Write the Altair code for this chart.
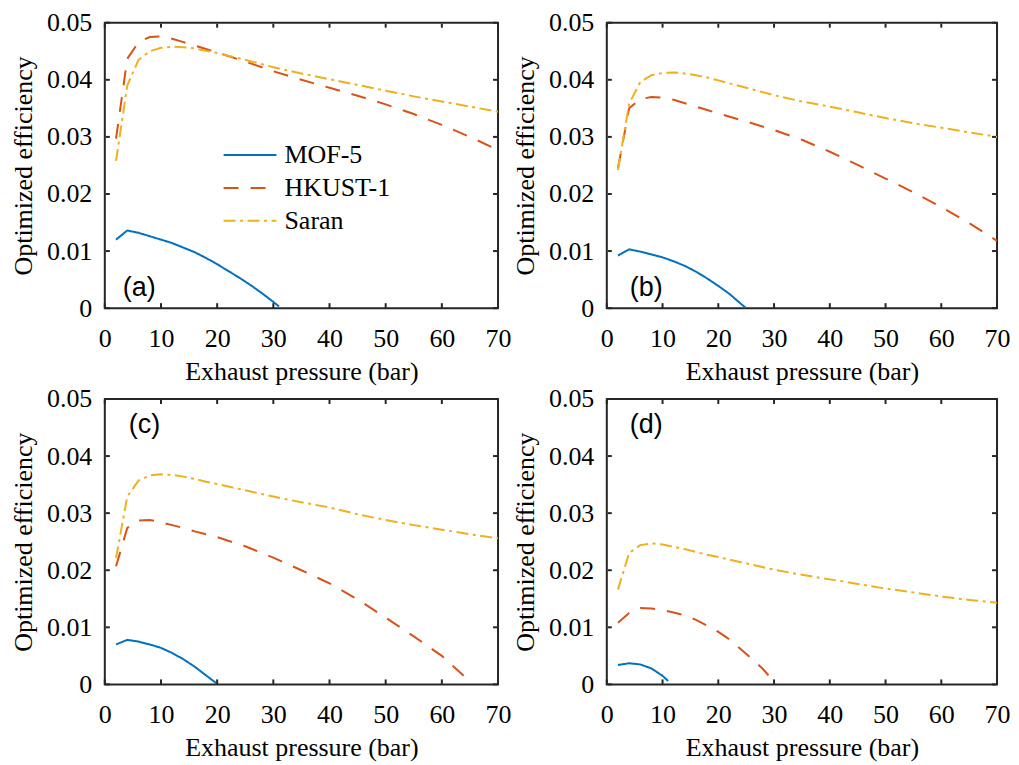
import altair as alt
import pandas as pd

series = ["MOF-5", "HKUST-1", "Saran"]
colors = ["#0072BD", "#D95319", "#EDB120"]
dashes = [[1, 0], [15, 12], [12, 4.5, 3, 4.5]]
x_ticks = [0, 10, 20, 30, 40, 50, 60, 70]
y_ticks = [0, 0.01, 0.02, 0.03, 0.04, 0.05]
panel_labels = ["(a)", "(b)", "(c)", "(d)"]

x_long = [2, 4, 6, 8, 10, 12, 14, 16, 18, 20, 25, 30, 35, 40, 45, 50, 55, 60, 65, 70]

# Panel (a)
a_mof_x = [2, 4, 6, 8, 10, 12, 14, 16, 18, 20, 22, 24, 26, 28, 30, 31]
a_mof_y = [0.0120, 0.0136, 0.0132, 0.0126, 0.0120, 0.0114, 0.0106, 0.0098, 0.0088, 0.0077,
           0.0065, 0.0053, 0.0040, 0.0026, 0.0011, 0.0003]
a_hk_x = x_long
a_hk_y = [0.0297, 0.0437, 0.0466, 0.0475, 0.0476, 0.0472, 0.0466, 0.0460, 0.0454, 0.0448,
          0.0432, 0.0415, 0.0400, 0.0386, 0.0372, 0.0357, 0.0340, 0.0321, 0.0300, 0.0277]
a_sa_x = x_long
a_sa_y = [0.0258, 0.0390, 0.0435, 0.0450, 0.0456, 0.0458, 0.0457, 0.0455, 0.0451, 0.0447,
          0.0435, 0.0422, 0.0411, 0.0401, 0.0391, 0.0381, 0.0371, 0.0362, 0.0353, 0.0344]

# Panel (b)
b_mof_x = [2, 4, 6, 8, 10, 12, 14, 16, 18, 20, 22, 24, 25]
b_mof_y = [0.0092, 0.0103, 0.0099, 0.0094, 0.0089, 0.0082, 0.0074, 0.0064, 0.0052, 0.0039,
           0.0025, 0.0008, 0.0000]
b_hk_x = x_long
b_hk_y = [0.0245, 0.0350, 0.0366, 0.0370, 0.0369, 0.0365, 0.0359, 0.0353, 0.0347, 0.0341,
          0.0327, 0.0312, 0.0295, 0.0274, 0.0251, 0.0227, 0.0203, 0.0177, 0.0149, 0.0118]
b_sa_x = x_long
b_sa_y = [0.0242, 0.0358, 0.0396, 0.0408, 0.0412, 0.0413, 0.0411, 0.0408, 0.0404, 0.0399,
          0.0386, 0.0373, 0.0362, 0.0353, 0.0343, 0.0333, 0.0324, 0.0316, 0.0308, 0.0300]

# Panel (c)
c_mof_x = [2, 4, 6, 8, 10, 12, 14, 16, 18, 20]
c_mof_y = [0.0070, 0.0078, 0.0075, 0.0070, 0.0064, 0.0055, 0.0044, 0.0031, 0.0016, 0.0001]
c_hk_x = [2, 4, 6, 8, 10, 12, 14, 16, 18, 20, 25, 30, 35, 40, 45, 50, 55, 60, 64]
c_hk_y = [0.0207, 0.0274, 0.0287, 0.0288, 0.0284, 0.0279, 0.0274, 0.0268, 0.0263, 0.0258,
          0.0242, 0.0222, 0.0200, 0.0177, 0.0149, 0.0117, 0.0084, 0.0050, 0.0014]
c_sa_x = x_long
c_sa_y = [0.0221, 0.0329, 0.0357, 0.0366, 0.0368, 0.0367, 0.0364, 0.0360, 0.0355, 0.0351,
          0.0340, 0.0329, 0.0319, 0.0310, 0.0298, 0.0288, 0.0279, 0.0271, 0.0263, 0.0256]

# Panel (d)
d_mof_x = [2, 4, 6, 8, 10, 11]
d_mof_y = [0.0034, 0.0037, 0.0035, 0.0028, 0.0015, 0.0006]
d_hk_x = [2, 4, 6, 8, 10, 12, 14, 16, 18, 20, 22, 24, 26, 28, 29]
d_hk_y = [0.0108, 0.0125, 0.0134, 0.0133, 0.0130, 0.0126, 0.0121, 0.0113, 0.0103, 0.0092,
          0.0079, 0.0062, 0.0045, 0.0027, 0.0016]
d_sa_x = x_long
d_sa_y = [0.0166, 0.0230, 0.0244, 0.0247, 0.0245, 0.0241, 0.0237, 0.0232, 0.0227, 0.0223,
          0.0212, 0.0201, 0.0192, 0.0184, 0.0176, 0.0168, 0.0161, 0.0154, 0.0148, 0.0143]

W_LEFT, W_RIGHT, H = 394, 391, 286
TICK = 5
AX = "#262626"
SERIF = "Liberation Serif"
FS = 26


def make_df(mx, my, hx, hy, sx, sy):
    rows = []
    for name, xs, ys in [(series[0], mx, my), (series[1], hx, hy), (series[2], sx, sy)]:
        for x, y in zip(xs, ys):
            rows.append({"p": x, "eff": y, "series": name})
    return pd.DataFrame(rows)


xscale = alt.Scale(domain=[0, 70], nice=False, padding=0, zero=False)
yscale = alt.Scale(domain=[0, 0.05], nice=False, padding=0)
xaxis = alt.Axis(values=x_ticks, title="Exhaust pressure (bar)", labelPadding=17, titlePadding=7,
                 labelFlush=False, labelOverlap=False)
yaxis = alt.Axis(values=y_ticks, title="Optimized efficiency", labelPadding=13, titlePadding=10,
                 labelFlush=False, labelOverlap=False,
                 labelExpr="datum.value == 0 ? '0' : format(datum.value, '.2f')")


def panel(df, label, lx, ly, show_legend, w):
    if show_legend:
        leg = alt.Legend(orient="none", legendX=118, legendY=116, title=None,
                         symbolType="stroke", symbolSize=2800, symbolStrokeWidth=2,
                         labelFont=SERIF, labelFontSize=FS, labelColor="#000",
                         labelOffset=7, rowPadding=0, clipHeight=33, symbolLimit=0)
    else:
        leg = None
    lines = alt.Chart(df).mark_line(strokeWidth=2, clip=True).encode(
        x=alt.X("p:Q", scale=xscale, axis=xaxis),
        y=alt.Y("eff:Q", scale=yscale, axis=yaxis),
        color=alt.Color("series:N", scale=alt.Scale(domain=series, range=colors), legend=leg, sort=series),
        strokeDash=alt.StrokeDash("series:N", scale=alt.Scale(domain=series, range=dashes), legend=leg, sort=series),
        order=alt.Order("p:Q"),
    )
    xt = alt.Chart(pd.DataFrame({"p": x_ticks}))
    yt = alt.Chart(pd.DataFrame({"eff": y_ticks}))
    bottom = xt.mark_rule(color=AX, strokeWidth=2).encode(
        x=alt.X("p:Q", scale=xscale, axis=xaxis), y=alt.value(H), y2=alt.value(H - TICK))
    top = xt.mark_rule(color=AX, strokeWidth=2).encode(
        x=alt.X("p:Q", scale=xscale, axis=xaxis), y=alt.value(1), y2=alt.value(TICK))
    left = yt.mark_rule(color=AX, strokeWidth=2).encode(
        y=alt.Y("eff:Q", scale=yscale, axis=yaxis), x=alt.value(1), x2=alt.value(TICK))
    right = yt.mark_rule(color=AX, strokeWidth=2).encode(
        y=alt.Y("eff:Q", scale=yscale, axis=yaxis), x=alt.value(w - 1), x2=alt.value(w - TICK))
    txt = alt.Chart(pd.DataFrame({"label": [label]})).mark_text(
        font="Liberation Sans", fontSize=27, align="left", baseline="middle", color="#000"
    ).encode(x=alt.value(lx), y=alt.value(ly), text="label:N")
    return alt.layer(lines, bottom, top, left, right, txt).properties(width=w, height=H)


pa = panel(make_df(a_mof_x, a_mof_y, a_hk_x, a_hk_y, a_sa_x, a_sa_y), panel_labels[0], 18, 266, True, W_LEFT)
pb = panel(make_df(b_mof_x, b_mof_y, b_hk_x, b_hk_y, b_sa_x, b_sa_y), panel_labels[1], 23, 266, False, W_RIGHT)
pc = panel(make_df(c_mof_x, c_mof_y, c_hk_x, c_hk_y, c_sa_x, c_sa_y), panel_labels[2], 24, 26, False, W_LEFT)
pd_ = panel(make_df(d_mof_x, d_mof_y, d_hk_x, d_hk_y, d_sa_x, d_sa_y), panel_labels[3], 23, 26, False, W_RIGHT)

chart = alt.vconcat(
    alt.hconcat(pa, pb, spacing=-1),
    alt.hconcat(pc, pd_, spacing=-1),
    spacing=0,
).resolve_scale(color="independent", strokeDash="independent").resolve_legend(
    color="independent", strokeDash="independent"
).configure_view(stroke=AX, strokeWidth=2).configure_axis(
    labelFont=SERIF, labelFontSize=FS, titleFont=SERIF, titleFontSize=FS, titleFontWeight="normal",
    labelColor="#000", titleColor="#000", ticks=False, domain=False, grid=False
).properties(padding={"left": 1, "top": 0, "right": 0, "bottom": 0}, background="white")

chart.save("out.html", embed_options={"renderer": "svg", "actions": False})
